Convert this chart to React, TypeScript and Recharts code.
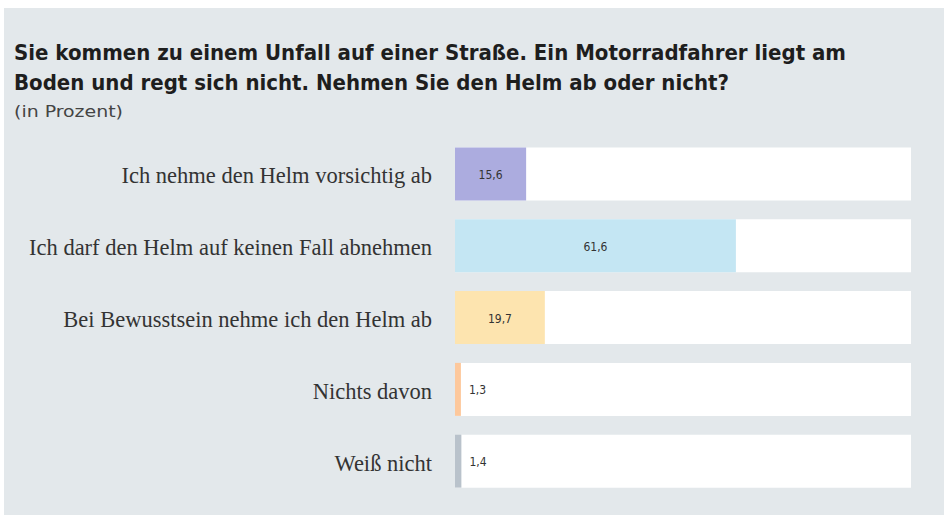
import { BarChart, Bar, XAxis, YAxis, Cell, LabelList } from "recharts"

const categories = [
  "Ich nehme den Helm vorsichtig ab",
  "Ich darf den Helm auf keinen Fall abnehmen",
  "Bei Bewusstsein nehme ich den Helm ab",
  "Nichts davon",
  "Weiß nicht",
]
const values = [15.6, 61.6, 19.7, 1.3, 1.4]
const colors = ["#acacdf", "#c4e6f3", "#fde4af", "#fdc89c", "#b9c2cb"]

const titleLines = [
  "Sie kommen zu einem Unfall auf einer Straße. Ein Motorradfahrer liegt am",
  "Boden und regt sich nicht. Nehmen Sie den Helm ab oder nicht?",
]
const subtitle = "(in Prozent)"

const data = categories.map((name, i) => ({ name, value: values[i] }))

const sans = '"DejaVu Sans Condensed", "DejaVu Sans", sans-serif'

const CategoryTick = (props: any) => {
  const { x, y, payload } = props
  return (
    <text
      x={x - 15}
      y={y}
      dy={9}
      textAnchor="end"
      fill="#333"
      fontSize={22.5}
      fontFamily='"Liberation Serif", "DejaVu Serif", serif'
    >
      {payload.value}
    </text>
  )
}

const ValueLabel = (props: any) => {
  const { x, y, width, height, value } = props
  const text = String(value).replace(".", ",")
  const inside = value > 5
  return (
    <text
      x={inside ? x + width / 2 : x + width + 8}
      y={y + height / 2}
      dy={5}
      textAnchor={inside ? "middle" : "start"}
      fill="#333"
      fontSize={12}
      fontFamily={sans}
    >
      {text}
    </text>
  )
}

export default function App() {
  return (
    <div style={{ position: "absolute", left: 0, top: 0, width: 944, height: 515, background: "#fff", overflow: "hidden" }}>
      <div style={{ position: "absolute", left: 4, top: 8, width: 940, height: 507, background: "#e3e8eb" }} />
      <svg style={{ position: "absolute", left: 0, top: 0 }} width={944} height={130}>
        <text x={14} y={60} fontSize={22} fontWeight="bold" fontFamily={sans} fill="#1e1e1e" textLength={832} lengthAdjust="spacingAndGlyphs">
          {titleLines[0]}
        </text>
        <text x={14} y={90} fontSize={22} fontWeight="bold" fontFamily={sans} fill="#1e1e1e" textLength={715} lengthAdjust="spacingAndGlyphs">
          {titleLines[1]}
        </text>
        <text x={14} y={117} fontSize={15} fontFamily={sans} fill="#444" textLength={109} lengthAdjust="spacingAndGlyphs">
          {subtitle}
        </text>
      </svg>
      <div style={{ position: "absolute", left: 0, top: 0 }}>
        <BarChart
          width={944}
          height={515}
          data={data}
          layout="vertical"
          margin={{ top: 138.6, right: 33, bottom: 17.6, left: 0 }}
        >
          <XAxis type="number" domain={[0, 100]} hide />
          <YAxis
            type="category"
            dataKey="name"
            width={455}
            axisLine={false}
            tickLine={false}
            tick={<CategoryTick />}
          />
          <Bar dataKey="value" barSize={53} background={{ fill: "#ffffff" }} isAnimationActive={false}>
            {data.map((d, i) => (
              <Cell key={d.name} fill={colors[i]} />
            ))}
            <LabelList dataKey="value" content={<ValueLabel />} />
          </Bar>
        </BarChart>
      </div>
    </div>
  )
}
